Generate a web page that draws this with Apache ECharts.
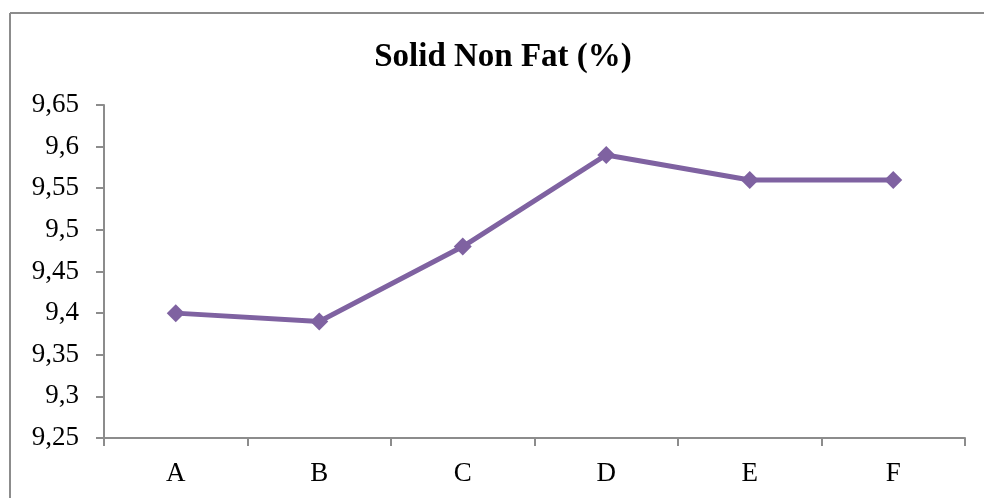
<!DOCTYPE html>
<html>
<head>
<meta charset="utf-8">
<script src="https://cdn.jsdelivr.net/npm/echarts@6/dist/echarts.min.js"></script>
<style>
  html, body { margin: 0; padding: 0; background: #ffffff; }
  #chart { width: 984px; height: 498px; }
</style>
</head>
<body>
<div id="chart"></div>
<script>
// Samples and their solid-non-fat content (%)
const categories = ['A', 'B', 'C', 'D', 'E', 'F'];
const snfValues = [9.40, 9.39, 9.48, 9.59, 9.56, 9.56];
const yMin = 9.25;
const yMax = 9.65;
const yStep = 0.05;

const serif = '"Liberation Serif", "DejaVu Serif", serif';
const axisGray = '#8c8c8c';

const chart = echarts.init(document.getElementById('chart'), null, { renderer: 'canvas' });

chart.setOption({
  animation: false,
  backgroundColor: '#ffffff',
  title: {
    text: 'Solid Non Fat (%)',
    left: 498,
    top: 36,
    textAlign: 'center',
    textStyle: { fontFamily: serif, fontWeight: 'bold', fontSize: 33, color: '#000000' }
  },
  graphic: [
    // chart frame: top and left edges
    { type: 'line', shape: { x1: 10, y1: 13, x2: 984, y2: 13 }, style: { stroke: axisGray, lineWidth: 2 } },
    { type: 'line', shape: { x1: 10, y1: 13, x2: 10, y2: 498 }, style: { stroke: axisGray, lineWidth: 2 } }
  ],
  grid: { left: 104, right: 19, top: 105, bottom: 60, containLabel: false },
  xAxis: {
    type: 'category',
    data: categories,
    boundaryGap: true,
    axisLine: { lineStyle: { color: axisGray, width: 2 } },
    axisTick: { show: true, length: 8, inside: false, lineStyle: { color: axisGray, width: 2 } },
    axisLabel: { fontFamily: serif, fontSize: 27, color: '#000000', margin: 22 },
    splitLine: { show: false }
  },
  yAxis: {
    type: 'value',
    min: yMin,
    max: yMax,
    interval: yStep,
    axisLine: { show: true, lineStyle: { color: axisGray, width: 2 } },
    axisTick: { show: true, length: 8, lineStyle: { color: axisGray, width: 2 } },
    axisLabel: {
      fontFamily: serif,
      fontSize: 27,
      color: '#000000',
      margin: 25,
      formatter: v => String(Math.round(v * 100) / 100).replace('.', ',')
    },
    splitLine: { show: false }
  },
  series: [{
    type: 'line',
    data: snfValues,
    symbol: 'diamond',
    symbolSize: 18,
    lineStyle: { color: '#7f62a1', width: 5 },
    itemStyle: { color: '#7f62a1' }
  }]
});
</script>
</body>
</html>
